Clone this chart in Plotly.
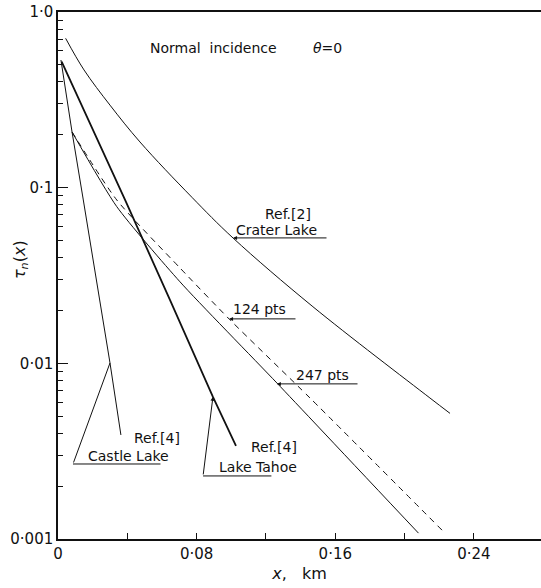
import plotly.graph_objects as go

# ---- data (x in km, transmission tau_n) ----
crater_x = [0.0044, 0.015, 0.030, 0.0473, 0.0773, 0.1010, 0.1471, 0.2146, 0.2262]
crater_y = [0.708, 0.468, 0.295, 0.182, 0.0881, 0.0517, 0.0210, 0.00635, 0.00519]

tahoe_x = [0.0021, 0.0387, 0.0646, 0.0894, 0.1027]
tahoe_y = [0.521, 0.0851, 0.0230, 0.00644, 0.00339]

castle_x = [0.0017, 0.0081, 0.0146, 0.0242, 0.0300, 0.0363]
castle_y = [0.533, 0.2075, 0.0851, 0.0230, 0.01005, 0.00391]

pts124_x = [0.0081, 0.0339, 0.0704, 0.0992, 0.1454, 0.2221]
pts124_y = [0.2075, 0.0851, 0.0349, 0.0177, 0.00635, 0.00111]

pts247_x = [0.0081, 0.0339, 0.0704, 0.1263, 0.2080]
pts247_y = [0.2075, 0.078, 0.0291, 0.00773, 0.00108]

x_major = [0, 0.08, 0.16, 0.24]
x_major_text = ["0", "0·08", "0·16", "0·24"]
x_minor = [0.04, 0.12, 0.20]
y_major = [0.001, 0.01, 0.1, 1.0]
y_major_text = ["0·001", "0·01", "0·1", "1·0"]
y_minor = [m * d for d in (0.001, 0.01, 0.1) for m in range(2, 10)]

FONT = "DejaVu Sans"
INK = "#111111"

fig = go.Figure()
fig.add_trace(go.Scatter(x=crater_x, y=crater_y, mode="lines",
                         line=dict(color=INK, width=1, shape="spline", smoothing=1.0)))
fig.add_trace(go.Scatter(x=tahoe_x, y=tahoe_y, mode="lines",
                         line=dict(color=INK, width=1.8)))
fig.add_trace(go.Scatter(x=castle_x, y=castle_y, mode="lines",
                         line=dict(color=INK, width=1)))
fig.add_trace(go.Scatter(x=pts124_x, y=pts124_y, mode="lines",
                         line=dict(color=INK, width=1, dash="6px,5px", shape="spline", smoothing=0.6)))
fig.add_trace(go.Scatter(x=pts247_x, y=pts247_y, mode="lines",
                         line=dict(color=INK, width=1, shape="spline", smoothing=0.6)))

ann = []
def txt(x, logy, s, size=14, xanchor="left"):
    ann.append(dict(x=x, y=logy, xref="x", yref="y", text=s, showarrow=False,
                    xanchor=xanchor, yanchor="middle",
                    font=dict(family=FONT, size=size, color=INK)))

def arrow(x, logy, ax, alogy, head=True):
    ann.append(dict(x=x, y=logy, ax=ax, ay=alogy, xref="x", yref="y",
                    axref="x", ayref="y", text="", showarrow=True,
                    arrowhead=2 if head else 0, arrowsize=0.8, arrowwidth=1,
                    arrowcolor=INK, standoff=0, startstandoff=0))

# Normal incidence
txt(0.052, -0.206, "Normal  incidence", 14)
txt(0.146, -0.206, "<i>θ</i>=0", 14)
# Crater Lake
txt(0.1327, -1.150, "Ref.[2]", 14, "center")
txt(0.1015, -1.240, "Crater Lake", 14)
arrow(0.101, -1.286, 0.1558, -1.286)
# 124 pts
txt(0.1000, -1.690, "124 pts", 14)
arrow(0.0987, -1.747, 0.1379, -1.747)
# 247 pts
txt(0.1360, -2.066, "247 pts", 14)
arrow(0.1263, -2.117, 0.1737, -2.117)
# Castle Lake
txt(0.0427, -2.425, "Ref.[4]", 14)
txt(0.0160, -2.527, "Castle Lake", 14)
arrow(0.0300, -1.998, 0.00865, -2.573, head=False)
arrow(0.00865, -2.573, 0.060, -2.573, head=False)
# Lake Tahoe
txt(0.1100, -2.476, "Ref.[4]", 14)
txt(0.0920, -2.590, "Lake Tahoe", 14)
arrow(0.0894, -2.191, 0.0837, -2.641)
arrow(0.0837, -2.641, 0.124, -2.641, head=False)

# y-axis title (rotated)
ann.append(dict(x=-0.078, y=0.53, xref="paper", yref="paper",
                text="<i>τ<sub>n</sub></i>(<i>x</i>)", showarrow=False, textangle=-90,
                xanchor="center", yanchor="middle",
                font=dict(family=FONT, size=16, color=INK)))

fig.update_layout(
    width=541, height=588,
    margin=dict(l=58, r=0, t=12, b=49),
    paper_bgcolor="white", plot_bgcolor="white",
    showlegend=False,
    annotations=ann,
    font=dict(family=FONT, color=INK),
    xaxis=dict(range=[0, 0.2787], tickvals=x_major, ticktext=x_major_text,
               ticks="inside", ticklen=6, tickcolor=INK, tickwidth=1,
               minor=dict(tickvals=x_minor, ticks="inside", ticklen=6,
                          tickcolor=INK, tickwidth=1),
               showline=True, linecolor=INK, linewidth=1.5, mirror=True,
               showgrid=False, zeroline=False,
               tickfont=dict(family=FONT, size=15, color=INK),
               title=dict(text="<i>x</i>,   km", font=dict(family=FONT, size=16, color=INK),
                          standoff=6)),
    yaxis=dict(type="log", range=[-3, 0], tickvals=y_major, ticktext=y_major_text,
               ticks="inside", ticklen=10, tickcolor=INK, tickwidth=1,
               minor=dict(tickvals=y_minor, ticks="inside", ticklen=5,
                          tickcolor=INK, tickwidth=1),
               showline=True, linecolor=INK, linewidth=1.5, mirror=False,
               showgrid=False, zeroline=False,
               tickfont=dict(family=FONT, size=15, color=INK)),
)

fig.write_html("out.html")
